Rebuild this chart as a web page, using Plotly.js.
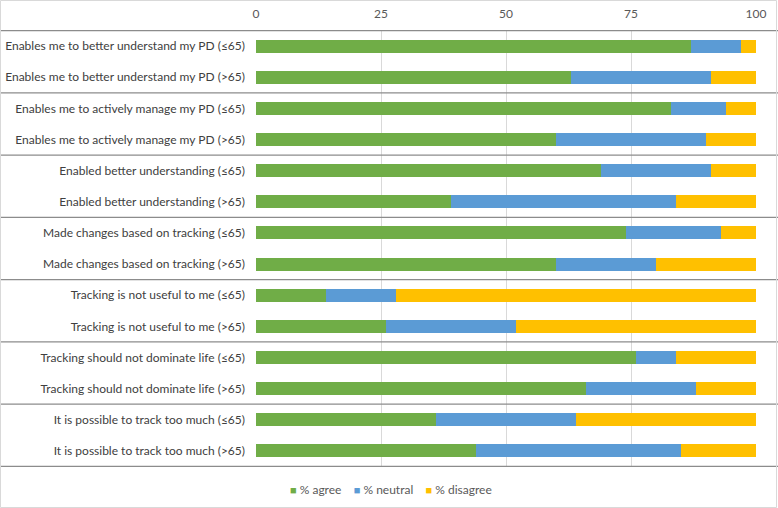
<!DOCTYPE html>
<html>
<head>
<meta charset="utf-8">
<script src="https://cdn.plot.ly/plotly-3.0.1.min.js"></script>
<style>html,body{margin:0;padding:0;background:#fff;}#chart{width:778px;height:508px;}</style>
</head>
<body>
<div id="chart"></div>
<script>
const categories = [
  "Enables me to better understand my PD (≤65)",
  "Enables me to better understand my PD (>65)",
  "Enables me to actively manage my PD (≤65)",
  "Enables me to actively manage my PD (>65)",
  "Enabled better understanding (≤65)",
  "Enabled better understanding (>65)",
  "Made changes based on tracking (≤65)",
  "Made changes based on tracking (>65)",
  "Tracking is not useful to me (≤65)",
  "Tracking is not useful to me (>65)",
  "Tracking should not dominate life (≤65)",
  "Tracking should not dominate life (>65)",
  "It is possible to track too much (≤65)",
  "It is possible to track too much (>65)"
];
const agree    = [87, 63, 83, 60, 69, 39, 74, 60, 14, 26, 76, 66, 36, 44];
const neutral  = [10, 28, 11, 30, 22, 45, 19, 20, 14, 26,  8, 22, 28, 41];
const disagree = [ 3,  9,  6, 10,  9, 16,  7, 20, 72, 48, 16, 12, 36, 15];
const seriesNames = ["% agree", "% neutral", "% disagree"];
const tickVals = [0, 25, 50, 75, 100];

const W = 778, H = 508;
const m = {l: 256, r: 22, t: 30, b: 41};
const pw = W - m.l - m.r;
const ph = H - m.t - m.b;

const colors = ["#70ad47", "#5b9bd5", "#ffc000"];
const data = [agree, neutral, disagree].map((vals, i) => ({
  type: "bar", orientation: "h", name: seriesNames[i],
  y: categories, x: vals, marker: {color: colors[i], line: {width: 0}},
  hoverinfo: "x+y"
}));

const shapes = [];
const x0p = -m.l / pw, x1p = (W - m.l) / pw;
for (let k = 0; k <= categories.length; k += 2) {
  shapes.push({type: "line", xref: "paper", yref: "y", x0: x0p, x1: x1p,
    y0: k - 0.5, y1: k - 0.5, line: {color: "#8c8c8c", width: 1.2}});
}
shapes.push({type: "rect", xref: "paper", yref: "paper",
  x0: x0p + 0.5 / pw, x1: (W - m.l - 1.5) / pw,
  y0: -(m.b - 0.5) / ph, y1: 1 + (m.t - 0.5) / ph,
  line: {color: "#d9d9d9", width: 1}});

// custom legend as one text annotation
const gap = "\u00a0\u00a0\u00a0\u00a0";
const legendText = seriesNames.map((n, i) =>
  '<span style="color:' + colors[i] + ';font-size:11px">■</span>\u00a0' + n).join(gap);

const layout = {
  width: W, height: H,
  margin: m,
  paper_bgcolor: "#ffffff", plot_bgcolor: "#ffffff",
  barmode: "stack", bargap: 0.58,
  font: {family: "Lato, 'Open Sans', sans-serif", size: 12, color: "#404040"},
  xaxis: {side: "top", range: [0, 100], tickvals: tickVals, ticktext: tickVals.map(String),
    showgrid: true, gridcolor: "#d9d9d9", gridwidth: 1, zeroline: false, showline: false,
    ticks: "", ticklabelstandoff: 9, tickfont: {size: 12, color: "#595959"}, fixedrange: true},
  yaxis: {autorange: "reversed", type: "category", showgrid: false, zeroline: false,
    showline: false, ticks: "", ticklen: 0, ticklabelstandoff: 10,
    tickfont: {size: 12, color: "#404040"}, automargin: false},
  showlegend: false,
  annotations: [{
    xref: "paper", yref: "paper", x: (391 - m.l) / pw, y: -(489 - m.t - ph) / ph,
    xanchor: "center", yanchor: "middle", showarrow: false,
    text: legendText, font: {size: 12, color: "#595959"}
  }],
  shapes: shapes
};
Plotly.newPlot("chart", data, layout, {displayModeBar: false, staticPlot: true});
</script>
</body>
</html>
